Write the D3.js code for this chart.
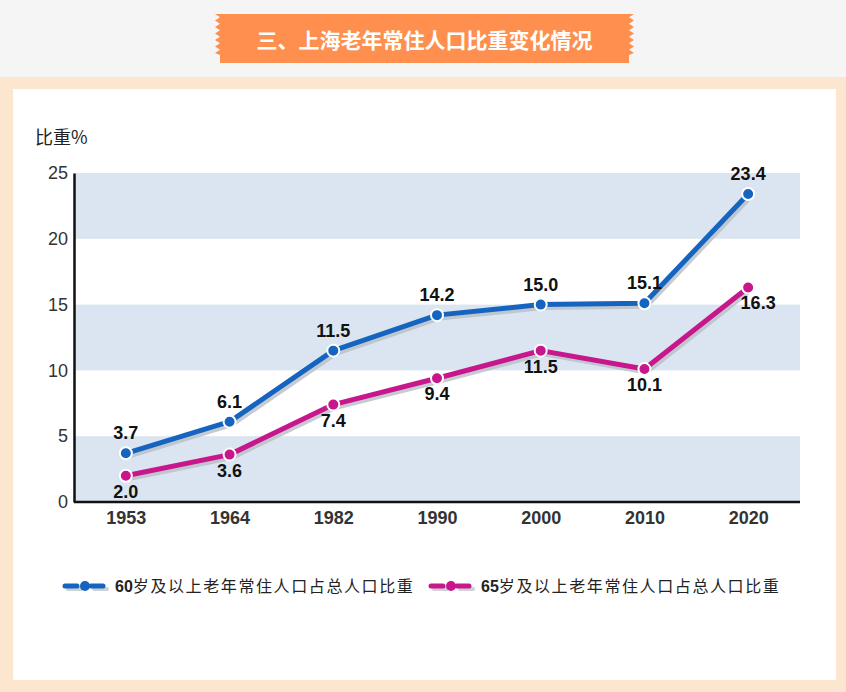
<!DOCTYPE html>
<html><head><meta charset="utf-8">
<script src="https://cdn.jsdelivr.net/npm/d3@7/dist/d3.min.js"></script>
<style>body{margin:0;background:#f5f5f5}svg{display:block}</style>
</head><body>
<script>
const title = "三、上海老年常住人口比重变化情况";
const yTitle = "比重%";
const years = ["1953","1964","1982","1990","2000","2010","2020"];
const series60 = [3.7, 6.1, 11.5, 14.2, 15.0, 15.1, 23.4];
const series65 = [2.0, 3.6, 7.4, 9.4, 11.5, 10.1, 16.3];
const labels60 = ["3.7","6.1","11.5","14.2","15.0","15.1","23.4"];
const labels65 = ["2.0","3.6","7.4","9.4","11.5","10.1","16.3"];
const yTicks = [0,5,10,15,20,25];
const legendNames = [["60","岁及以上老年常住人口占总人口比重"],["65","岁及以上老年常住人口占总人口比重"]];
const colors = ["#1565c0","#c8168c"];

const W=846,H=692;
const svg=d3.select("body").append("svg").attr("width",W).attr("height",H);
const num="'Liberation Sans',Arial,sans-serif";
const cjk="'Noto Sans CJK SC','Liberation Sans',sans-serif";

// backgrounds
svg.append("rect").attr("width",W).attr("height",H).attr("fill","#f5f5f5");
svg.append("rect").attr("x",0).attr("y",77).attr("width",W).attr("height",H-77).attr("fill","#fde6cf");
svg.append("rect").attr("x",13).attr("y",89).attr("width",823).attr("height",591).attr("fill","#fff");

// banner
(function(){
  const x0=220,x1=629,y0=14,y1=63,teeth=6,th=6.5,d=5;
  let pts=[[x0-d,y0],[x1+d,y0]];
  for(let i=0;i<teeth;i++){pts.push([x1,y0+th*i+th/2]);pts.push([x1+d,y0+th*(i+1)]);}
  pts.push([x1,y0+th*teeth+2]);pts.push([x1,y1]);pts.push([x0,y1]);pts.push([x0,y0+th*teeth+2]);
  for(let i=teeth-1;i>=0;i--){pts.push([x0-d,y0+th*(i+1)]);pts.push([x0,y0+th*i+th/2]);}
  svg.append("polygon").attr("points",pts.map(p=>p.join(",")).join(" ")).attr("fill","#ff8f4e");
  svg.append("text").attr("x",(x0+x1)/2).attr("y",48).attr("text-anchor","middle")
    .attr("font-family",cjk).attr("font-weight","bold").attr("font-size",21).attr("fill","#fff").text(title);
})();

const x=d3.scalePoint().domain(years).range([74,800]).padding(0.5);
const y=d3.scaleLinear().domain([0,25]).range([502,173]);

// bands
const g=svg.append("g");
[[0,5],[10,15],[20,25]].forEach(b=>{
  g.append("rect").attr("x",74).attr("width",726).attr("y",y(b[1])).attr("height",y(b[0])-y(b[1])).attr("fill","#dae5f1");
});

// axes
const yAxis=d3.axisLeft(y).tickValues(yTicks).tickSize(0).tickPadding(6);
const ya=svg.append("g").attr("transform","translate(74,0)").call(yAxis);
ya.select(".domain").attr("stroke","#111").attr("stroke-width",2.5);
ya.selectAll("text").attr("font-family",num).attr("font-size",18).attr("fill","#333");
const xAxis=d3.axisBottom(x).tickSize(0).tickPadding(9);
const xa=svg.append("g").attr("transform","translate(0,502)").call(xAxis);
xa.select(".domain").attr("stroke","#111").attr("stroke-width",2.5).attr("d","M74,0H800");
xa.selectAll("text").attr("font-family",num).attr("font-size",18).attr("font-weight","bold").attr("fill","#333");

svg.append("text").attr("x",35).attr("y",144).attr("font-family",cjk).attr("font-size",18).attr("fill","#222").text(yTitle);

const line=d3.line().x((d,i)=>x(years[i])).y(d=>y(d));
[series60,series65].forEach((s,k)=>{
  svg.append("path").attr("d",line(s)).attr("fill","none").attr("stroke","#b9bec6").attr("stroke-opacity",0.8)
    .attr("stroke-width",5).attr("transform","translate(2,3)").attr("stroke-linejoin","round");
});
[series60,series65].forEach((s,k)=>{
  svg.append("path").attr("d",line(s)).attr("fill","none").attr("stroke",colors[k])
    .attr("stroke-width",5).attr("stroke-linejoin","round");
  svg.selectAll(null).data(s).enter().append("circle")
    .attr("cx",(d,i)=>x(years[i])).attr("cy",d=>y(d)).attr("r",6)
    .attr("fill",colors[k]).attr("stroke","#fff").attr("stroke-width",2);
});
// labels
svg.selectAll(null).data(series60).enter().append("text")
  .attr("x",(d,i)=>x(years[i])).attr("y",d=>y(d)-14).attr("text-anchor","middle")
  .attr("font-family",num).attr("font-weight","bold").attr("font-size",18).attr("fill","#111")
  .text((d,i)=>labels60[i]);
svg.selectAll(null).data(series65).enter().append("text")
  .attr("x",(d,i)=>x(years[i])+(i===6?10:0)).attr("y",d=>y(d)+22).attr("text-anchor","middle")
  .attr("font-family",num).attr("font-weight","bold").attr("font-size",18).attr("fill","#111")
  .text((d,i)=>labels65[i]);

// legend
const lx=[64,430];
legendNames.forEach((n,k)=>{
  const lg=svg.append("g").attr("transform",`translate(${lx[k]},586)`);
  [[1,13],[27,39]].forEach(seg=>{
    lg.append("line").attr("x1",seg[0]+3).attr("x2",seg[1]+4).attr("y1",3).attr("y2",3).attr("stroke","#cdd0d5").attr("stroke-width",4).attr("stroke-linecap","round");
    lg.append("line").attr("x1",seg[0]).attr("x2",seg[1]).attr("y1",0).attr("y2",0).attr("stroke",colors[k]).attr("stroke-width",5).attr("stroke-linecap","round");
  });
  lg.append("circle").attr("cx",21).attr("cy",0).attr("r",5).attr("fill",colors[k]);
  const t=lg.append("text").attr("x",51).attr("y",6).attr("font-size",16).attr("fill","#222");
  t.append("tspan").attr("font-family",num).attr("font-weight","bold").text(n[0]);
  t.append("tspan").attr("font-family",cjk).attr("letter-spacing",1.6).text(n[1]);
});
</script>
</body></html>
